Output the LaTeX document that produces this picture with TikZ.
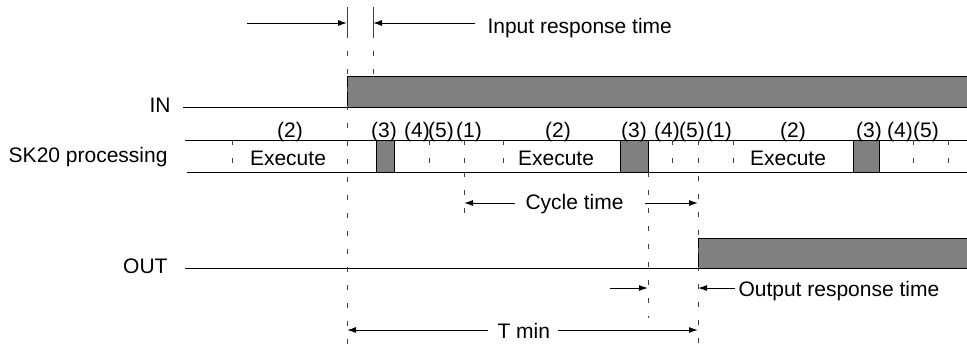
\documentclass[tikz,border=0pt]{standalone}
\usepackage{fontspec}
\setmainfont{Liberation Sans}
\usetikzlibrary{arrows.meta}

\begin{document}
\begin{tikzpicture}[x=0.5pt, y=-0.5pt, line width=0.5pt,
    every node/.style={font=\fontsize{10.5pt}{12.5pt}\selectfont, inner sep=0pt},
    txt/.style={anchor=base},
    guide/.style={black!75, dash pattern=on 2.5pt off 6.5pt},
    tick/.style={black!75},
    dimarrow/.style={-{Latex[length=4.5pt,width=3pt]}},
    pulse/.style={draw, fill=gray}]

        \useasboundingbox (0,0) rectangle (967,350);

        % Signal names
        \node[anchor=base east] (inName) at (171,112) {IN};
        \node[anchor=base east] (skName) at (168,162) {SK20 processing};
        \node[anchor=base east] (outName) at (168,273) {OUT};

        % IN signal
        \coordinate (inStart) at (183,107);
        \coordinate (inRise) at (347,107);
        \draw (inStart) -- (inRise);
        \draw[pulse] (967,76) -- (347,76) -- (347,107) -- (967,107);

        % OUT signal
        \coordinate (outStart) at (185,268);
        \coordinate (outRise) at (698,268);
        \draw (outStart) -- (outRise);
        \draw[pulse] (967,238) -- (698,238) -- (698,268) -- (967,268);

        % Processing row
        \coordinate (rowTL) at (185,140);
        \coordinate (rowTR) at (967,140);
        \coordinate (rowBL) at (187,172);
        \coordinate (rowBR) at (967,172);
        \draw (rowTL) -- (rowTR);
        \draw (rowBL) -- (rowBR);
        \foreach \x in {232,429,464,503,672,733,913,948}
            \draw[guide] (\x,140) -- (\x,172);
        \foreach \a/\b in {376/394, 620/648, 853/879}
            \draw[pulse] (\a,140) rectangle (\b,172);

        % Step numbers
        \foreach \x/\s in {290/2, 384/3, 417/4, 441/5, 469/1,
                           558/2, 634/3, 667/4, 692/5, 719/1,
                           793/2, 869/3, 900/4, 926/5}
            \node[txt] (step\x) at (\x,137) {(\s)};
        \node[txt] (exeA) at (288,165) {Execute};
        \node[txt] (exeB) at (556,165) {Execute};
        \node[txt] (exeC) at (788,165) {Execute};

        % Time marks
        \draw[tick] (347,7) -- (347,33);
        \draw[tick] (373,7) -- (373,33);
        \draw[guide] (347,33) -- (347,350);
        \draw[guide] (373,33) -- (373,76);
        \draw[guide] (464,172) -- (464,220);
        \draw[guide] (648,172) -- (648,318);
        \draw[guide] (698,140) -- (698,350);

        % Input response time
        \coordinate (inTailL) at (247,23);
        \coordinate (inHeadL) at (347,23);
        \coordinate (inTailR) at (475,23);
        \coordinate (inHeadR) at (373,23);
        \draw[dimarrow] (inTailL) -- (inHeadL);
        \draw[dimarrow] (inTailR) -- (inHeadR);
        \node[txt, anchor=base west] (inResp) at (487,33) {Input response time};

        % Cycle time
        \coordinate (cyTailL) at (515,203);
        \coordinate (cyHeadL) at (464,203);
        \coordinate (cyTailR) at (645,203);
        \coordinate (cyHeadR) at (698,203);
        \draw[dimarrow] (cyTailL) -- (cyHeadL);
        \draw[dimarrow] (cyTailR) -- (cyHeadR);
        \node[txt, anchor=base west] (cycle) at (525,209) {Cycle time};

        % Output response time
        \coordinate (outTailL) at (610,288);
        \coordinate (outHeadL) at (648,288);
        \coordinate (outTailR) at (735,288);
        \coordinate (outHeadR) at (698,288);
        \draw[dimarrow] (outTailL) -- (outHeadL);
        \draw[dimarrow] (outTailR) -- (outHeadR);
        \node[txt, anchor=base west] (outResp) at (738,296) {Output response time};

        % T min
        \coordinate (tTailL) at (488,330);
        \coordinate (tHeadL) at (347,330);
        \coordinate (tTailR) at (558,330);
        \coordinate (tHeadR) at (698,330);
        \draw[dimarrow] (tTailL) -- (tHeadL);
        \draw[dimarrow] (tTailR) -- (tHeadR);
        \node[txt, anchor=base west] (tmin) at (497,338) {T min};
    \end{tikzpicture}
\end{document}
